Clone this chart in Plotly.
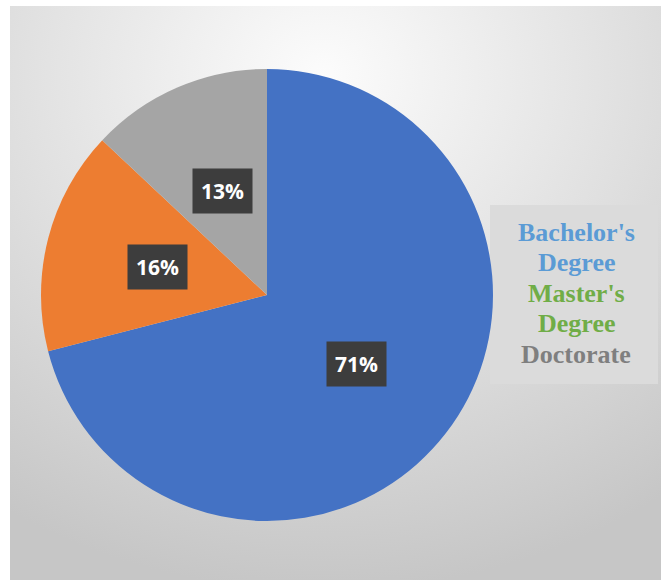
import base64, math
import plotly.graph_objects as go

labels = ["Bachelor's Degree", "Master's Degree", "Doctorate"]
values = [71, 16, 13]
slice_colors = ["#4472C4", "#ED7D31", "#A5A5A5"]
legend_lines = [["Bachelor's", "Degree"], ["Master's", "Degree"], ["Doctorate"]]
legend_colors = ["#5B9BD5", "#70AD47", "#7F7F7F"]

W, H = 661, 580
cx, cy, R = 267, 295, 226

svg = f'''<svg xmlns="http://www.w3.org/2000/svg" width="651" height="574">
<defs><radialGradient id="g" cx="48%" cy="12%" r="90%" fx="48%" fy="12%">
<stop offset="0" stop-color="#fcfcfc"/><stop offset="0.45" stop-color="#e4e4e4"/>
<stop offset="1" stop-color="#c6c6c6"/></radialGradient></defs>
<rect width="651" height="574" fill="url(#g)"/></svg>'''
src = "data:image/svg+xml;base64," + base64.b64encode(svg.encode()).decode()

fig = go.Figure(go.Pie(
    labels=labels, values=values, sort=False, direction="clockwise", rotation=0,
    marker=dict(colors=slice_colors, line=dict(width=0)),
    textinfo="none", hoverinfo="label+percent", showlegend=False,
    domain=dict(x=[(cx - R) / W, (cx + R) / W], y=[1 - (cy + R) / H, 1 - (cy - R) / H]),
))

annotations = []
total = sum(values)
cum = 0
for v in values:
    mid = (cum + v / 2) / total * 2 * math.pi
    cum += v
    px = cx + 0.5 * R * math.sin(mid)
    py = cy - 0.5 * R * math.cos(mid)
    annotations.append(dict(
        x=px / W, y=1 - py / H, xref="paper", yref="paper", showarrow=False,
        text=f"<b>{round(v / total * 100)}%</b>",
        font=dict(family="Open Sans", size=21, color="white"),
        bgcolor="#3d3d3d", borderpad=8, xanchor="center", yanchor="middle"))

line_y = 232
for lines, col in zip(legend_lines, legend_colors):
    for ln in lines:
        annotations.append(dict(
            x=576 / W, y=1 - line_y / H, xref="paper", yref="paper", showarrow=False,
            text=f"<b>{ln}</b>", xanchor="center", yanchor="middle",
            font=dict(family="Liberation Serif", size=26, color=col)))
        line_y += 30.5

fig.update_layout(
    width=W, height=H, margin=dict(l=0, r=0, t=0, b=0),
    paper_bgcolor="white", plot_bgcolor="rgba(0,0,0,0)",
    images=[dict(source=src, xref="paper", yref="paper", x=10 / W, y=1 - 6 / H,
                 sizex=651 / W, sizey=574 / H, sizing="stretch", layer="below",
                 xanchor="left", yanchor="top")],
    shapes=[dict(type="rect", xref="paper", yref="paper",
                 x0=490 / W, x1=658 / W, y0=1 - 384 / H, y1=1 - 205 / H,
                 fillcolor="#dbdbdb", line=dict(width=0), layer="below")],
    annotations=annotations,
)
fig.write_html("out.html")
